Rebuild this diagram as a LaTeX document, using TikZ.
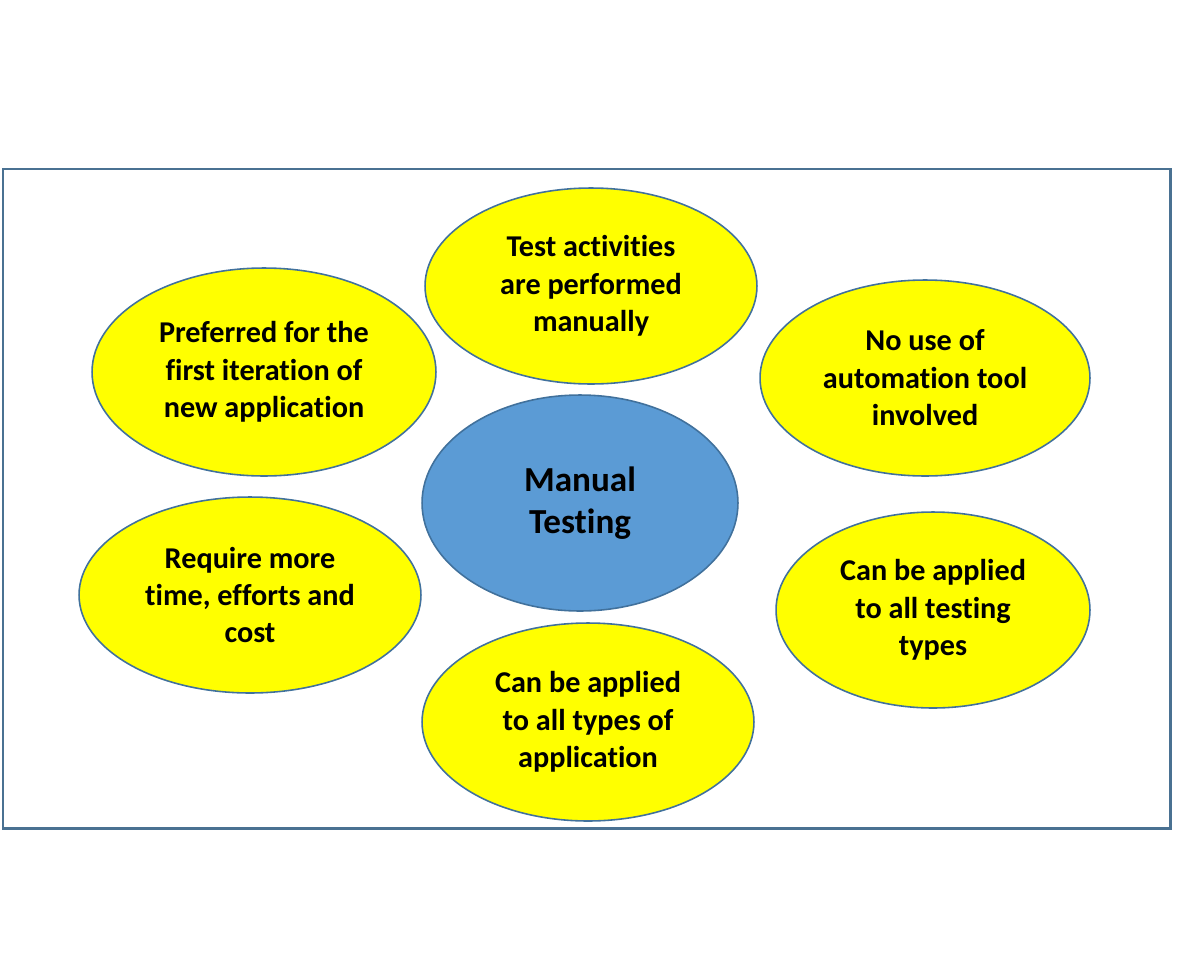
\documentclass[tikz,border=0pt]{standalone}
\usepackage{fontspec}
\setmainfont{Carlito}[Ligatures=NoCommon]
\usetikzlibrary{shapes.geometric}

\definecolor{bubblefill}{HTML}{FFFF00}
\definecolor{bubbleline}{HTML}{41719C}
\definecolor{hubfill}{HTML}{5B9BD5}
\definecolor{framecol}{HTML}{4A7192}

\begin{document}
\begin{tikzpicture}[x=0.02cm, y=-0.02cm,
    bubble/.style={ellipse, draw=bubbleline, line width=0.9pt, fill=bubblefill,
        inner sep=0pt, align=center, font=\fontsize{17.2}{21.3}\selectfont\bfseries},
    hub/.style={bubble, fill=hubfill, font=\fontsize{20}{24}\selectfont\bfseries}]
    % Page size and outer frame
    \useasboundingbox (0,0) rectangle (1186,970);
    \draw[framecol, line width=1.7pt] (3,169) rectangle (1170,828);

    % The surrounding bubbles
    \node[bubble, minimum width=6.64cm, minimum height=3.92cm] (manual) at (591,286)
        {Test activities\\are performed\\manually};
    \node[bubble, minimum width=6.88cm, minimum height=4.16cm] (first) at (264,372)
        {Preferred for the\\first iteration of\\new application};
    \node[bubble, minimum width=6.6cm, minimum height=3.92cm] (notool) at (925,378)
        {No use of\\automation tool\\involved};
    \node[bubble, minimum width=6.84cm, minimum height=3.92cm] (cost) at (250,595)
        {Require more\\time, efforts and\\cost};
    \node[bubble, minimum width=6.28cm, minimum height=3.92cm] (testtypes) at (933,610)
        {Can be applied\\to all testing\\types};
    \node[bubble, minimum width=6.64cm, minimum height=3.96cm] (apptypes) at (588,722)
        {Can be applied\\to all types of\\application};

    % The central topic
    \node[hub, minimum width=6.32cm, minimum height=4.32cm] (hub) at (580,503)
        {Manual\\Testing};
\end{tikzpicture}
\end{document}
